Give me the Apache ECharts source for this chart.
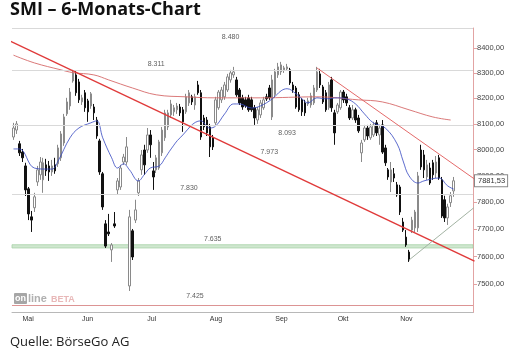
<!DOCTYPE html>
<html><head><meta charset="utf-8">
<script src="https://cdn.jsdelivr.net/npm/echarts@6/dist/echarts.min.js"></script>
<style>html,body{margin:0;padding:0;background:#fff}#c{width:514px;height:359px}</style>
</head><body><div id="c"></div>
<script>
// ---- data ----
const monthNames = ['Apr','Mai','Jun','Jul','Aug','Sep','Okt','Nov','Dez'];
const tradingDays = [3,20,22,21,22,21,21,19,6];
const labelledMonths = ['Mai','Jun','Jul','Aug','Sep','Okt','Nov'];
// [open, close, low, high]
const ohlc = [
[8049,8084,8038,8104],[8076,8100,8061,8111],[8023,7988,7976,8034],[7991,7969,7953,8003],
[7938,7847,7824,7950],[7851,7757,7734,7858],[7746,7734,7690,7768],[7780,7821,7764,7836],
[7877,7923,7862,7938],[7904,7953,7885,7972],[7885,7950,7836,7969],[7942,7919,7900,7965],
[7938,7915,7881,7957],[7915,7938,7900,7961],[7942,7919,7908,7969],[7946,8007,7934,8019],
[7969,8061,7957,8072],[8026,8127,8015,8139],[8139,8186,8131,8202],[8170,8225,8155,8241],
[8269,8301,8262,8313],[8293,8222,8210,8309],[8265,8194,8182,8277],[8186,8202,8174,8214],
[8222,8163,8147,8233],[8190,8147,8108,8198],[8170,8218,8159,8225],[8166,8143,8115,8178],
[8115,8053,8042,8127],[8034,7915,7904,8042],[7908,7783,7772,7915],[7720,7638,7631,7734],
[7690,7683,7675,7757],[7624,7642,7580,7649],[7720,7712,7705,7764],[7847,7881,7828,7892],
[7858,7930,7847,7942],[7953,7972,7942,7984],[7953,8011,7942,8049],[7493,7746,7475,7772],
[7694,7598,7587,7701],[7734,7772,7723,7810],[7836,7881,7824,7892],[7923,7980,7904,7999],
[7999,7942,7904,8019],[7999,8057,7988,8084],[8057,8019,7969,8076],[7919,7896,7847,7953],
[7923,7969,7911,7980],[7930,8030,7923,8038],[7988,8076,7976,8088],[8046,8143,8034,8155],
[8088,8143,8076,8155],[8135,8178,8123,8194],[8147,8163,8131,8174],[8155,8170,8139,8182],
[8166,8143,8131,8178],[8155,8108,8069,8166],[8147,8206,8139,8218],[8182,8222,8170,8233],
[8206,8186,8174,8214],[8174,8206,8155,8218],[8253,8222,8214,8269],[8222,8049,8038,8233],
[8123,8088,8076,8135],[8115,8065,8053,8127],[8088,8011,7972,8100],[8046,8011,7999,8057],
[8104,8194,8092,8206],[8163,8225,8155,8233],[8194,8233,8182,8245],[8206,8253,8194,8265],
[8233,8285,8225,8297],[8273,8301,8262,8313],[8293,8305,8281,8325],[8273,8214,8206,8285],
[8233,8182,8174,8241],[8202,8166,8155,8214],[8194,8170,8163,8206],[8202,8155,8147,8214],
[8194,8155,8147,8206],[8163,8123,8096,8174],[8115,8155,8100,8166],[8135,8182,8123,8194],
[8163,8194,8155,8206],[8206,8198,8190,8218],[8241,8202,8194,8253],[8127,8273,8115,8293],
[8214,8305,8202,8317],[8293,8325,8281,8341],[8305,8333,8293,8345],[8313,8321,8301,8329],
[8317,8325,8309,8337],[8313,8261,8253,8321],[8253,8233,8222,8265],[8241,8166,8159,8249],
[8214,8155,8147,8225],[8194,8147,8131,8202],[8182,8143,8131,8194],[8178,8190,8170,8202],
[8174,8210,8163,8222],[8182,8241,8174,8253],[8233,8305,8225,8325],[8297,8253,8241,8317],
[8245,8186,8178,8253],[8222,8155,8147,8233],[8163,8253,8155,8265],[8273,8163,8147,8285],
[8143,8065,8019,8155],[8147,8174,8139,8182],[8163,8225,8155,8233],[8225,8194,8182,8233],
[8206,8182,8170,8218],[8163,8123,8115,8174],[8123,8155,8115,8174],[8155,8115,8104,8163],
[8123,8073,8065,8135],[7988,8026,7953,8038],[8038,8084,8030,8096],[8084,8053,8038,8096],
[8046,8088,8038,8100],[8057,8096,8049,8108],[8104,8065,8053,8115],[8057,8084,8019,8096],
[8096,7991,7984,8115],[8007,7950,7938,8019],[7923,7896,7885,7930],[7877,7923,7839,7953],
[7908,7892,7877,7930],[7866,7828,7821,7877],[7858,7764,7753,7866],[7727,7697,7690,7742],
[7671,7642,7635,7697],[7616,7587,7580,7624],[7697,7734,7686,7746],[7705,7764,7690,7772],
[7705,7900,7690,7915],[7999,7934,7923,8019],[7980,7923,7892,7999],[7896,7942,7885,7961],
[7930,7873,7866,7950],[7950,7904,7885,7961],[7911,7953,7892,7976],[7969,7892,7885,7980],
[7885,7749,7742,7896],[7810,7742,7727,7825],[7742,7783,7716,7795],[7799,7825,7783,7839],
[7843,7881.53,7821,7896]
];
const lastClose = 7881.53;
// short moving average (blue), points read as [dayIndex, value]
const maShort = [[0,8003],[2,8003],[7,7930],[11,7926],[13,7926],[15,7957],[19,8046],[22,8084],
[26,8104],[28,8112],[30,8046],[33,7969],[35,7930],[37,7946],[39,7923],[42,7881],[44,7905],
[46,7930],[49,7938],[51,7969],[53,8003],[56,8046],[63,8112],[66,8084],[68,8092],[71,8139],
[74,8178],[76,8178],[80,8162],[83,8170],[87,8198],[90,8230],[92,8238],[95,8218],[97,8198],
[99,8182],[102,8202],[105,8198],[109,8202],[112,8198],[115,8178],[118,8139],[121,8104],
[125,8084],[129,8022],[131,7957],[133,7900],[136,7873],[138,7881],[143,7892],[146,7862],[148,7850]];
// long moving average (red)
const maLong = [[0,8372],[7,8341],[16,8313],[20,8302],[27,8293],[32,8273],[40,8241],[48,8214],
[58,8206],[68,8202],[83,8202],[102,8206],[116,8194],[124,8186],[133,8155],[141,8127],[147,8115]];
// trend lines
const trendMain = [[-1,8428],[155,7583]];
const trendUpper = [[102,8321],[155,7888]];
const trendLower = [[133,7587],[155,7782]];
// horizontal levels
const levelLines = [8480, 8311, 8093, 7830];
const lowLevel = 7425;
const supportBand = [7631, 7643];
const levelLabelValues = [8480, 8311, 8093, 7973, 7830, 7635, 7425];
const yTicks = [7500,7600,7700,7800,7900,8000,8100,8200,8300,8400];

// ---- build ----
const categories = [];
monthNames.forEach((m, k) => { for (let d = 1; d <= tradingDays[k]; d++) categories.push(m + '-' + d); });
const isMonthStart = (val) => { const p = String(val).split('-'); return p[1] === '1' && labelledMonths.indexOf(p[0]) >= 0; };
const fmtAxis = v => Number(v).toFixed(2).replace('.', ',');
const fmtLevel = v => (v / 1000).toFixed(3);

const labelAnchor = [73, 48, 92, 86, 59, 67, 61];
const labelPos = ['bottom','top','bottom','top','top','top','top'];
const labelDist = [5, 3, 3.5, 1, 3, 4, 5];

const chart = echarts.init(document.getElementById('c'), null, {renderer: 'canvas'});
chart.setOption({
  animation: false,
  backgroundColor: '#fff',
  title: [
    {text: 'SMI – 6-Monats-Chart', left: 10, top: 1, padding: 0,
     textStyle: {fontFamily: 'Open Sans', fontWeight: 'bold', fontSize: 18, color: '#111'}},
    {text: 'Quelle: BörseGo AG', left: 10, top: 336, padding: 0,
     textStyle: {fontFamily: 'Open Sans', fontWeight: 'normal', fontSize: 13, color: '#222'}}
  ],
  grid: {left: 12, right: 41, top: 28, bottom: 46.5},
  xAxis: {
    type: 'category', data: categories, boundaryGap: true,
    axisLine: {lineStyle: {color: '#b8b8b8'}},
    axisTick: {alignWithLabel: true, length: 3, interval: (i, v) => isMonthStart(v), lineStyle: {color: '#999'}},
    axisLabel: {interval: (i, v) => isMonthStart(v), formatter: v => String(v).split('-')[0],
      align: 'left', fontSize: 7, color: '#333', margin: 3, fontFamily: 'Liberation Sans'},
    splitLine: {show: false}
  },
  yAxis: {
    type: 'log', logBase: 10, min: 7398, max: 8482, position: 'right',
    axisLine: {show: true, lineStyle: {color: '#e2a3a3'}},
    axisTick: {show: true, customValues: yTicks, length: 4, lineStyle: {color: '#e2a3a3'}},
    axisLabel: {show: true, customValues: yTicks, formatter: fmtAxis, fontSize: 7.5, color: '#444', margin: 4, fontFamily: 'Liberation Sans'},
    splitLine: {show: false}
  },
  graphic: [{
    type: 'group', left: 14, top: 293, silent: true,
    children: [
      {type: 'rect', shape: {x: 0, y: 1, width: 13, height: 11, r: 1}, style: {fill: '#a6a6a6'}},
      {type: 'text', x: 1, y: 2, style: {text: 'on', fill: '#fff', font: 'bold 9px Liberation Sans'}},
      {type: 'text', x: 14, y: 1, style: {text: 'line', fill: '#b0b0b0', font: 'bold 11px Liberation Sans'}},
      {type: 'text', x: 37, y: 3, style: {text: 'BETA', fill: '#e8b8b8', font: 'bold 9px Liberation Sans'}}
    ]
  }],
  series: [
    {
      type: 'candlestick', data: ohlc, barWidth: 2, z: 3,
      itemStyle: {color: '#ffffff', color0: '#111111', borderColor: '#8a8a8a', borderColor0: '#111111', borderWidth: 1},
      markLine: {
        silent: true, symbol: 'none', animation: false,
        label: {show: false},
        data: levelLines.map(v => ({yAxis: v, lineStyle: {color: '#d9d9d9', width: 1, type: 'solid'}}))
          .concat([{yAxis: lowLevel, lineStyle: {color: '#dc9494', width: 1, type: 'solid'}}])
          .concat([{yAxis: lastClose, lineStyle: {color: 'rgba(0,0,0,0)', width: 0},
            label: {show: true, position: 'end', distance: 2, formatter: fmtAxis(lastClose),
              color: '#333', fontSize: 7.5, fontFamily: 'Liberation Sans', backgroundColor: '#fff',
              borderColor: '#888', borderWidth: 1, padding: [2, 2, 1, 3]}}])
      },
      markArea: {
        silent: true,
        itemStyle: {color: '#cfe7cf', borderColor: '#a8d2a8', borderWidth: 0.8},
        data: [[{yAxis: supportBand[0]}, {yAxis: supportBand[1]}]]
      }
    },
    {type: 'line', data: maLong, smooth: 0.4, symbol: 'none', z: 4,
     lineStyle: {color: '#d66a6a', width: 0.9}},
    {type: 'line', data: maShort, smooth: 0.4, symbol: 'none', z: 4,
     lineStyle: {color: '#3346c0', width: 0.8}},
    {type: 'line', data: trendMain, symbol: 'none', z: 5, lineStyle: {color: '#e03a3a', width: 1.5}},
    {type: 'line', data: trendUpper, symbol: 'none', z: 5, lineStyle: {color: '#e46a6a', width: 1}},
    {type: 'line', data: trendLower, symbol: 'none', z: 5, lineStyle: {color: '#a3b3a3', width: 1}},
    {type: 'scatter', symbolSize: 0, z: 6, silent: true,
     data: levelLabelValues.map((v, k) => ({value: [labelAnchor[k], v],
       label: {show: true, position: labelPos[k], distance: labelDist[k], formatter: fmtLevel(v),
         fontSize: 7, color: '#333', fontFamily: 'Liberation Sans'}}))}
  ]
});
</script></body></html>
